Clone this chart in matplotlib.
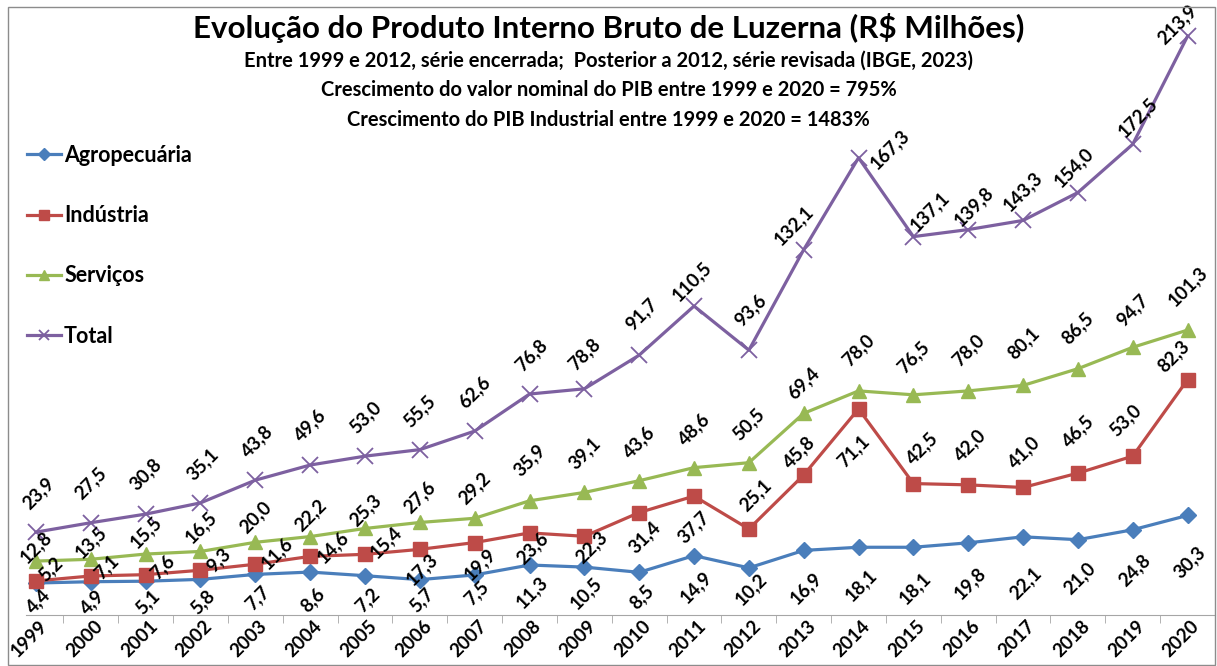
import numpy as np
import matplotlib.pyplot as plt
from matplotlib.patches import Rectangle
from matplotlib.transforms import ScaledTranslation

plt.rcParams['font.family'] = ['Lato', 'DejaVu Sans']

# Dados (R$ milhões)
anos = [str(a) for a in range(1999, 2021)]
agro = [4.4, 4.9, 5.1, 5.8, 7.7, 8.6, 7.2, 5.7, 7.5, 11.3, 10.5, 8.5,
        14.9, 10.2, 16.9, 18.1, 18.1, 19.8, 22.1, 21.0, 24.8, 30.3]
industria = [5.2, 7.1, 7.6, 9.3, 11.6, 14.6, 15.4, 17.3, 19.9, 23.6, 22.3, 31.4,
             37.7, 25.1, 45.8, 71.1, 42.5, 42.0, 41.0, 46.5, 53.0, 82.3]
servicos = [12.8, 13.5, 15.5, 16.5, 20.0, 22.2, 25.3, 27.6, 29.2, 35.9, 39.1, 43.6,
            48.6, 50.5, 69.4, 78.0, 76.5, 78.0, 80.1, 86.5, 94.7, 101.3]
total = [23.9, 27.5, 30.8, 35.1, 43.8, 49.6, 53.0, 55.5, 62.6, 76.8, 78.8, 91.7,
         110.5, 93.6, 132.1, 167.3, 137.1, 139.8, 143.3, 154.0, 172.5, 213.9]

# deslocamento dos rótulos em pixels (dx para a direita, dy para baixo)
agro_dx = [2] * 22
agro_dy = [18, 20, 21, 23, 24, 28, 24, 20, 18, 27, 26, 25, 32, 21, 38, 38, 41, 40, 46, 38, 40, 47]
ind_dx = [15, 16, 17, 18, 22, 23, 21, 2, 5, 3, 7, 5, 0, 7, -5, -5, 9, 2, 1, 0, -7, -14]
ind_dy = [-12, -9, -8, -10, -11, -9, -12, 20, 22, 15, 11, 25, 31, -34, -23, 42, -35, -40, -35, -42, -36, -23]
serv_dx = [0] * 22
serv_dy = [-14, -17, -22, -24, -25, -21, -18, -25, -30, -41, -39, -39, -39, -39, -30, -41, -38, -41, -42, -41, -37, -44]
tot_dx = [2, 0, 0, 2, 2, 0, 0, 0, 0, 2, 0, 2, -2, 2, -10, 31, 16, 5, 0, -4, 5, -10]
tot_dy = [-39, -40, -40, -39, -39, -40, -39, -39, -39, -39, -35, -41, -25, -40, -24, -8, -25, -23, -29, -25, -27, -12]

W, H = 1217, 666
fig = plt.figure(figsize=(W / 100, H / 100), dpi=100)
ax = fig.add_axes([26 / W, 1 - 615 / H, (1215 - 26) / W, 600 / H])

x = np.arange(len(anos))
series = [
    ('Agropecuária', agro, '#4A7EBB', 'D', 8.5, agro_dx, agro_dy),
    ('Indústria', industria, '#BE4B48', 's', 10.5, ind_dx, ind_dy),
    ('Serviços', servicos, '#98B954', '^', 10.5, serv_dx, serv_dy),
    ('Total', total, '#7D60A0', 'x', 11, tot_dx, tot_dy),
]

for nome, vals, cor, mk, ms, dxs, dys in series:
    ax.plot(x, vals, color=cor, lw=2.3, marker=mk, markersize=ms,
            markeredgewidth=1.3 if mk == 'x' else 1, label=nome)
    for xi, v, dx, dy in zip(x, vals, dxs, dys):
        ax.annotate(f'{v:.1f}'.replace('.', ','), (xi, v), xytext=(dx, -dy),
                    textcoords='offset pixels', ha='center', va='center',
                    rotation=45, fontsize=13.5, fontweight='bold', annotation_clip=False)

ax.set_xlim(-0.182, 21.457)
ax.set_ylim(-7.85, 222)
ax.set_yticks([])
for s in ['left', 'right', 'top']:
    ax.spines[s].set_visible(False)
ax.spines['bottom'].set_color('#a6a6a6')

ax.set_xticks(x)
ax.set_xticklabels(anos, rotation=45, ha='right', va='top', rotation_mode='anchor',
                   fontsize=13.5, fontweight='bold')
ax.set_xticks(np.arange(len(anos)) + 0.5, minor=True)
ax.tick_params(axis='x', which='major', length=0, pad=2)
ax.tick_params(axis='x', which='minor', length=6, color='#a6a6a6', direction='out')
for lab in ax.get_xticklabels():
    lab.set_transform(lab.get_transform() + ScaledTranslation(3 / 100, 0, fig.dpi_scale_trans))

leg = ax.legend(loc='upper left', bbox_to_anchor=(27 / W, 1 - 145 / H), bbox_transform=fig.transFigure,
                frameon=False, borderpad=0, borderaxespad=0, handlelength=1.6, handletextpad=0.12,
                labelspacing=1.82, markerscale=0.7, prop={'weight': 'bold', 'size': 15.5})

fig.text(0.5, 1 - 28 / H, 'Evolução do Produto Interno Bruto de Luzerna (R$ Milhões)',
         ha='center', va='center', fontsize=22.6, fontweight='bold')
subs = ['Entre 1999 e 2012, série encerrada;  Posterior a 2012, série revisada (IBGE, 2023)',
        'Crescimento do valor nominal do PIB entre 1999 e 2020 = 795%',
        'Crescimento do PIB Industrial entre 1999 e 2020 = 1483%']
for i, t in enumerate(subs):
    fig.text(0.5, 1 - (61 + 29.5 * i) / H, t, ha='center', va='center', fontsize=14.5, fontweight='bold')

fig.patches.append(Rectangle((8 / W, 1 / H), 1207 / W, 658 / H, transform=fig.transFigure,
                             fill=False, ec='#8c8c8c', lw=1))

fig.savefig('out.png', dpi=100)
